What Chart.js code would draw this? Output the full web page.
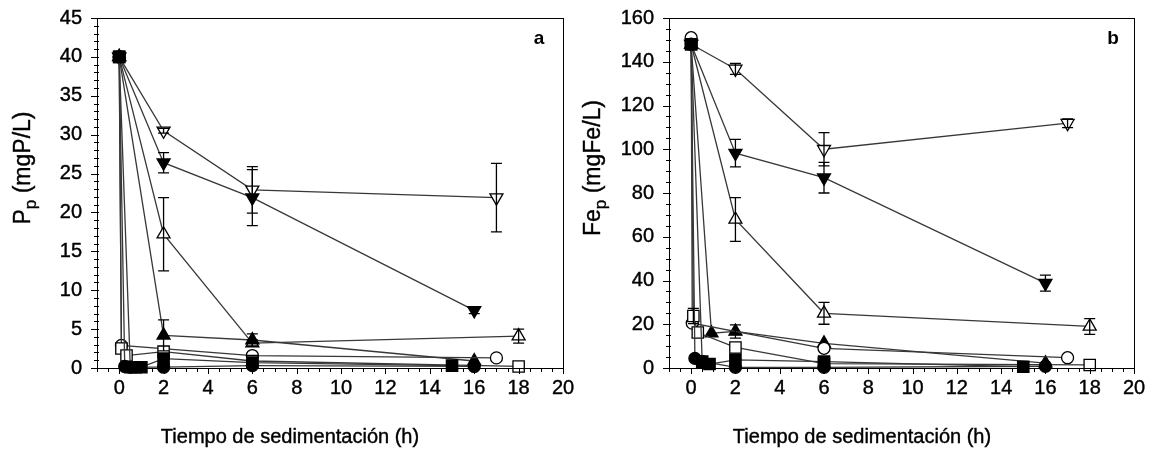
<!DOCTYPE html>
<html>
<head>
<meta charset="utf-8">
<script src="https://cdn.jsdelivr.net/npm/chart.js@4/dist/chart.umd.min.js"></script>
<style>
  body { margin: 0; background: #fff; }
  #wrap { position: relative; width: 1156px; height: 450px; }
  canvas { position: absolute; top: 0; }
</style>
</head>
<body>
<div id="wrap">
  <canvas id="chartA" width="580" height="450" style="left:0"></canvas>
  <canvas id="chartB" width="576" height="450" style="left:580px"></canvas>
</div>
<script>
// ---- panel a: P_p (mgP/L) vs time (h) ----
var tA_sqFill = [0, 0.5, 0.75, 1, 2, 6, 15];
var pA_sqFill = [40, 0.1, 0.1, 0.1, 1.2, 0.7, 0.3];
var tA_ciFill = [0, 0.25, 0.5, 2, 6, 16];
var pA_ciFill = [40, 0.2, 0.1, 0.1, 0.3, 0.2];
var tA_sqOpen = [0, 0.1, 0.33, 2, 6, 18];
var pA_sqOpen = [40, 2.5, 1.6, 2.1, 0.9, 0.2];
var tA_ciOpen = [0, 0.1, 6, 17];
var pA_ciOpen = [40, 2.9, 1.6, 1.3];
var tA_upFill = [0, 2, 6, 16];
var pA_upFill = [40, 4.2, 3.6, 0.9];
var eA_upFill = [0, 2.0, 0.8, 0];
var tA_upOpen = [0, 2, 6, 18];
var pA_upOpen = [40, 17.2, 3.2, 4.1];
var eA_upOpen = [0, 4.7, 0.4, 0.9];
var tA_dnFill = [0, 2, 6, 16];
var pA_dnFill = [40, 26.4, 21.9, 7.4];
var eA_dnFill = [0, 1.3, 3.6, 0.4];
var tA_dnOpen = [0, 2, 6, 17];
var pA_dnOpen = [40, 30.5, 22.9, 21.9];
var eA_dnOpen = [0, 0.3, 3.0, 4.4];

// ---- panel b: Fe_p (mgFe/L) vs time (h) ----
var tB_sqFill = [0, 0.5, 0.83, 2, 6, 15];
var fB_sqFill = [148, 2.9, 1.8, 3.7, 2.9, 0.6];
var tB_ciFill = [0, 0.17, 0.5, 2, 6, 16];
var fB_ciFill = [148, 4.4, 3.0, 0.3, 0.3, 0.8];
var tB_sqOpen = [0, 0.1, 0.3, 2, 6, 18];
var fB_sqOpen = [148, 23.8, 16.2, 9.4, 2.0, 1.4];
var eB_sqOpen = [0, 3.5, 0, 0, 0, 0];
var tB_ciOpen = [0, 0.05, 6, 17];
var fB_ciOpen = [151, 20.5, 9.0, 4.7];
var tB_upFill = [0, 0.92, 2, 6, 16];
var fB_upFill = [148, 15.9, 16.7, 11.3, 2.2];
var eB_upFill = [0, 0, 3.0, 0, 0];
var tB_upOpen = [0, 2, 6, 18];
var fB_upOpen = [148, 67.9, 25, 19];
var eB_upOpen = [0, 10, 5, 3.6];
var tB_dnFill = [0, 2, 6, 16];
var fB_dnFill = [148, 98.2, 87, 38.8];
var eB_dnFill = [0, 6.3, 7, 3.7];
var tB_dnOpen = [0, 2, 6, 17];
var fB_dnOpen = [148, 136.7, 100, 111.9];
var eB_dnOpen = [0, 2.5, 7.6, 2];

var xTicksMajor = 2;
var FONT = "'Liberation Sans', Arial, sans-serif";

// marker looks, same order in both panels
var markers = [
  { style: 'rect', radius: 8, rot: 0, fill: '#000' },
  { style: 'circle', radius: 6, rot: 0, fill: '#000' },
  { style: 'rect', radius: 8, rot: 0, fill: '#fff' },
  { style: 'circle', radius: 6, rot: 0, fill: '#fff' },
  { style: 'triangle', radius: 7.5, rot: 0, fill: '#000' },
  { style: 'triangle', radius: 7.5, rot: 0, fill: '#fff' },
  { style: 'triangle', radius: 7.5, rot: 180, fill: '#000' },
  { style: 'triangle', radius: 7.5, rot: 180, fill: '#fff' }
];

function toPoints(xs, ys) {
  return xs.map(function (x, i) { return { x: x, y: ys[i] }; });
}

function makeDatasets(series) {
  return series.map(function (s, i) {
    var m = markers[i];
    return {
      data: toPoints(s[0], s[1]),
      showLine: true,
      borderColor: '#383838',
      borderWidth: 1.3,
      pointStyle: m.style,
      pointRadius: m.radius,
      pointRotation: m.rot,
      pointBackgroundColor: m.fill,
      pointBorderColor: '#000',
      pointBorderWidth: 1.3,
      clip: false
    };
  });
}

function heavyText(ctx, s, x, y) {
  ctx.fillText(s, x, y);
  ctx.strokeText(s, x, y);
}

// frame, minor ticks, error bars, axis titles, panel letter
var decor = {
  id: 'decor',
  afterDatasetsDraw: function (chart, args, o) {
    var ctx = chart.ctx, xs = chart.scales.x, ys = chart.scales.y;
    ctx.save();
    ctx.strokeStyle = '#000';
    ctx.lineWidth = 1.3;
    chart.data.datasets.forEach(function (ds, i) {
      var errs = o.errors[i];
      if (!errs) return;
      ds.data.forEach(function (p, j) {
        var e = errs[j];
        if (!e) return;
        var px = xs.getPixelForValue(p.x);
        var y1 = ys.getPixelForValue(p.y + e);
        var y2 = ys.getPixelForValue(p.y - e);
        ctx.beginPath();
        ctx.moveTo(px, y1); ctx.lineTo(px, y2);
        ctx.moveTo(px - 5.5, y1); ctx.lineTo(px + 5.5, y1);
        ctx.moveTo(px - 5.5, y2); ctx.lineTo(px + 5.5, y2);
        ctx.stroke();
      });
    });
    ctx.restore();
  },
  afterDraw: function (chart, args, o) {
    var ctx = chart.ctx, a = chart.chartArea;
    var xs = chart.scales.x, ys = chart.scales.y;
    ctx.save();
    ctx.strokeStyle = '#000';
    ctx.lineWidth = 1;
    ctx.strokeRect(Math.round(a.left) + 0.5, Math.round(a.top) + 0.5,
      Math.round(a.right - a.left), Math.round(a.bottom - a.top));

    ctx.beginPath();
    var v, px, len;
    for (v = xs.min; v <= xs.max + 1e-9; v += 0.5) {
      px = Math.round(xs.getPixelForValue(v)) + 0.5;
      len = Math.abs(v % xTicksMajor) < 1e-9 ? 6 : 4;
      ctx.moveTo(px, a.bottom); ctx.lineTo(px, a.bottom + len);
    }
    for (v = ys.min; v <= ys.max + 1e-9; v += o.yMinor) {
      var py = Math.round(ys.getPixelForValue(v)) + 0.5;
      len = Math.abs(v % o.yMajor) < 1e-9 ? 6 : 3;
      ctx.moveTo(a.left - len, py); ctx.lineTo(a.left + 2, py);
    }
    ctx.stroke();

    ctx.fillStyle = '#000';
    ctx.lineWidth = 0.4;
    // x title
    ctx.font = '20px ' + FONT;
    ctx.textAlign = 'center';
    ctx.textBaseline = 'middle';
    heavyText(ctx, 'Tiempo de sedimentación (h)', o.xTitleX, 437);

    // y title with subscript
    var big = '23px ' + FONT, small = '17px ' + FONT;
    ctx.font = big;
    var w1 = ctx.measureText(o.yTitle[0]).width;
    var w3 = ctx.measureText(o.yTitle[2]).width;
    ctx.font = small;
    var w2 = ctx.measureText(o.yTitle[1]).width;
    var total = w1 + w2 + w3;
    ctx.translate(o.yTitleX, 168);
    ctx.rotate(-Math.PI / 2);
    ctx.textAlign = 'left';
    ctx.textBaseline = 'alphabetic';
    var u = -total / 2;
    ctx.font = big;
    heavyText(ctx, o.yTitle[0], u, 0);
    ctx.font = small;
    heavyText(ctx, o.yTitle[1], u + w1, 6);
    ctx.font = big;
    heavyText(ctx, o.yTitle[2], u + w1 + w2, 0);
    ctx.setTransform(1, 0, 0, 1, 0, 0);

    // panel letter
    ctx.font = 'bold 19px ' + FONT;
    ctx.textAlign = 'center';
    ctx.textBaseline = 'middle';
    ctx.fillText(o.letter, o.letterX, 39);
    ctx.restore();
  }
};

function makeChart(id, series, yMax, yStep, pad, yWidth, deco) {
  return new Chart(document.getElementById(id).getContext('2d'), {
    type: 'scatter',
    data: { datasets: makeDatasets(series) },
    plugins: [decor],
    options: {
      responsive: false,
      animation: false,
      layout: { padding: pad },
      plugins: { legend: { display: false }, tooltip: { enabled: false }, decor: deco },
      scales: {
        x: {
          type: 'linear', min: -1, max: 20,
          afterFit: function (s) { s.height = 60; s.paddingLeft = 0; s.paddingRight = 0; },
          grid: { display: false, drawTicks: false },
          border: { display: false },
          ticks: { stepSize: xTicksMajor, includeBounds: false, padding: 8, color: '#000',
                   textStrokeColor: '#000', textStrokeWidth: 0.4,
                   maxRotation: 0, autoSkip: false, font: { family: FONT, size: 20 } }
        },
        y: {
          type: 'linear', min: 0, max: yMax,
          afterFit: function (s) { s.width = yWidth; s.paddingTop = 0; s.paddingBottom = 0; },
          grid: { display: false, drawTicks: false },
          border: { display: false },
          ticks: { stepSize: yStep, padding: 15, color: '#000',
                   textStrokeColor: '#000', textStrokeWidth: 0.4,
                   font: { family: FONT, size: 20 } }
        }
      }
    }
  });
}

makeChart('chartA', [
  [tA_sqFill, pA_sqFill], [tA_ciFill, pA_ciFill], [tA_sqOpen, pA_sqOpen], [tA_ciOpen, pA_ciOpen],
  [tA_upFill, pA_upFill], [tA_upOpen, pA_upOpen], [tA_dnFill, pA_dnFill], [tA_dnOpen, pA_dnOpen]
], 45, 5, { left: 45, right: 17, top: 18, bottom: 22 }, 52, {
  errors: [null, null, null, null, eA_upFill, eA_upOpen, eA_dnFill, eA_dnOpen],
  yMinor: 1, yMajor: 5, yTitle: ['P', 'p', ' (mgP/L)'], yTitleX: 30,
  xTitleX: 290, letter: 'a', letterX: 539
});

makeChart('chartB', [
  [tB_sqFill, fB_sqFill], [tB_ciFill, fB_ciFill], [tB_sqOpen, fB_sqOpen], [tB_ciOpen, fB_ciOpen],
  [tB_upFill, fB_upFill], [tB_upOpen, fB_upOpen], [tB_dnFill, fB_dnFill], [tB_dnOpen, fB_dnOpen]
], 160, 20, { left: 37, right: 22, top: 18, bottom: 22 }, 52, {
  errors: [null, null, eB_sqOpen, null, eB_upFill, eB_upOpen, eB_dnFill, eB_dnOpen],
  yMinor: 5, yMajor: 20, yTitle: ['Fe', 'p', ' (mgFe/L)'], yTitleX: 20,
  xTitleX: 282, letter: 'b', letterX: 533
});
</script>
</body>
</html>
